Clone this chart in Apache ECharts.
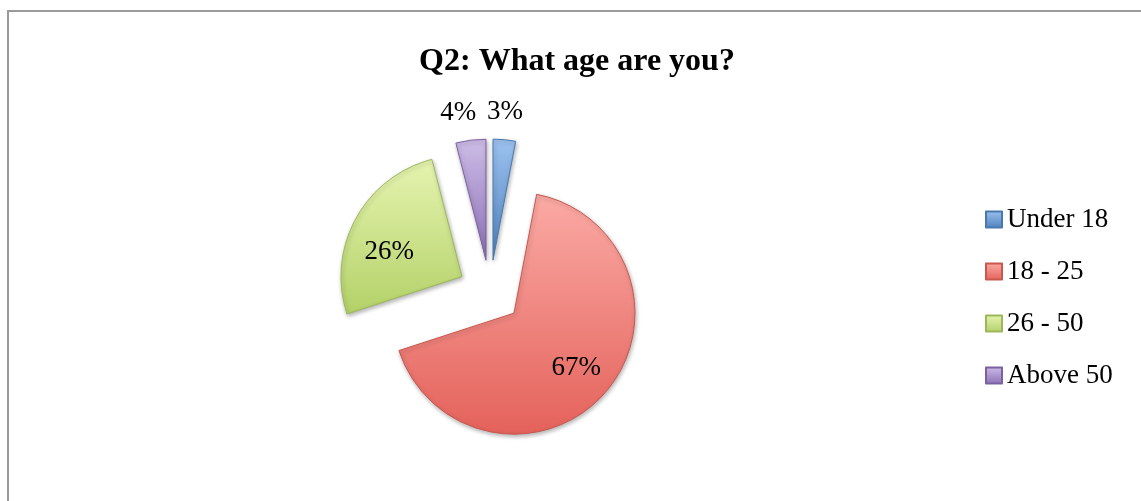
<!DOCTYPE html>
<html>
<head>
<meta charset="utf-8">
<script src="https://cdn.jsdelivr.net/npm/echarts@6/dist/echarts.min.js"></script>
<style>
  html, body { margin: 0; padding: 0; background: #fff; overflow: hidden; }
  #chart { position: absolute; left: 0; top: 0; width: 1141px; height: 501px; }
  #frame {
    position: absolute; left: 7px; top: 10px; width: 2000px; height: 2000px;
    border: 2px solid #9a9a9a; pointer-events: none;
  }
</style>
</head>
<body>
<div id="chart"></div>
<div id="frame"></div>
<script>
// Survey answers for "Q2: What age are you?"
const titleText = 'Q2: What age are you?';
const categories = ['Under 18', '18 - 25', '26 - 50', 'Above 50'];
const shares = [3, 67, 26, 4];
// which slices carry their percentage inside the wedge
const labelInside = [false, true, true, false];

// light -> dark vertical shading for each slice
const sliceTop = ['#9cc2ef', '#fbaaa5', '#e6f4b0', '#cdbce6'];
const sliceBottom = ['#4f81bd', '#e4625b', '#b3d168', '#8c70b6'];
const sliceEdge = ['#4a78b0', '#c9564f', '#9cb85a', '#7a62a0'];

// small per-slice nudges of the percentage text
const labelDrop = [false, false, true, false];
const labelGap = [-20, 0, 0, -9];

const FONT = '"Liberation Serif", "DejaVu Serif", serif';
const CENTER = [490, 292];
const R = 121;
const EXPLODE = 32;

function shade(i) {
  return new echarts.graphic.LinearGradient(0, 0, 0, 1, [
    { offset: 0, color: sliceTop[i] },
    { offset: 1, color: sliceBottom[i] }
  ]);
}

const mainData = categories.map((name, i) => ({
  name: name,
  value: shares[i],
  selected: true,
  itemStyle: {
    color: shade(i),
    borderColor: sliceEdge[i],
    borderWidth: 1,
    shadowBlur: 4,
    shadowOffsetX: 1,
    shadowOffsetY: 2,
    shadowColor: 'rgba(0,0,0,0.3)'
  }
}));

// invisible copy of the pie used only to place the percentage text
function labelRing(radius, inside) {
  return {
    type: 'pie',
    center: CENTER,
    radius: radius,
    startAngle: 90,
    clockwise: true,
    selectedMode: 'multiple',
    selectedOffset: EXPLODE,
    avoidLabelOverlap: false,
    silent: true,
    animation: false,
    emphasis: { disabled: true },
    z: 5,
    data: categories.map((name, i) => ({
      name: name,
      value: shares[i],
      selected: true,
      itemStyle: { color: 'rgba(0,0,0,0)', borderWidth: 0 },
      labelLine: { show: false, length: 28, length2: 0 },
      label: {
        show: labelInside[i] === inside,
        position: inside ? 'inside' : 'outside',
        distanceToLabelLine: labelGap[i],
        // an empty leading line lowers the text by half a line
        formatter: (labelDrop[i] ? '\n' : '') + shares[i] + '%',
        lineHeight: labelDrop[i] ? 30 : 27,
        color: '#000',
        fontFamily: FONT,
        fontSize: 27
      }
    }))
  };
}

const chart = echarts.init(document.getElementById('chart'), null, { renderer: 'canvas' });
chart.setOption({
  backgroundColor: 'rgba(0,0,0,0)',
  animation: false,
  title: {
    text: titleText,
    left: 572,
    textAlign: 'center',
    top: 41,
    textStyle: { fontFamily: FONT, fontSize: 32, fontWeight: 'bold', color: '#000' }
  },
  legend: {
    data: categories,
    orient: 'vertical',
    left: 980,
    top: 201,
    itemWidth: 16,
    itemHeight: 16,
    itemGap: 25,
    icon: 'rect',
    selectedMode: false,
    textStyle: { fontFamily: FONT, fontSize: 27, color: '#000' }
  },
  series: [
    {
      type: 'pie',
      center: CENTER,
      radius: R,
      startAngle: 90,
      clockwise: true,
      selectedMode: 'multiple',
      selectedOffset: EXPLODE,
      animation: false,
      emphasis: { disabled: true },
      label: { show: false },
      labelLine: { show: false },
      data: mainData
    },
    labelRing([40, 120], true),
    labelRing(R, false)
  ]
});
</script>
</body>
</html>
